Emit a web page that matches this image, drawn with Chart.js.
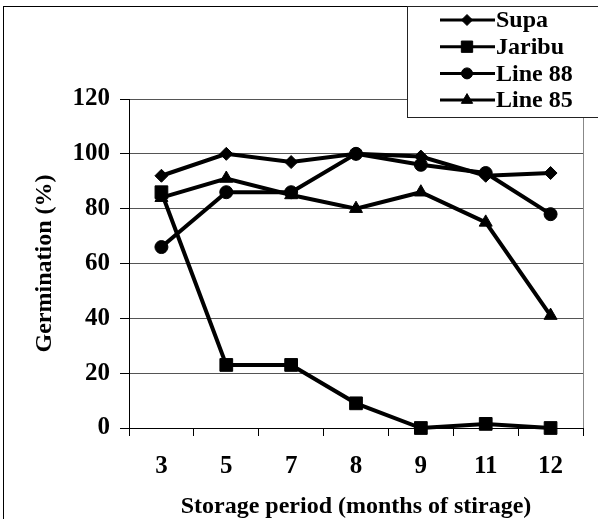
<!DOCTYPE html>
<html>
<head>
<meta charset="utf-8">
<script src="https://cdn.jsdelivr.net/npm/chart.js@4.4.1/dist/chart.umd.min.js"></script>
<style>
  html, body { margin: 0; padding: 0; background: #fff; }
  #wrap { width: 598px; height: 519px; }
</style>
</head>
<body>
<div id="wrap"><canvas id="lineChart" width="598" height="519"></canvas></div>
<script>
// DATA
const months = ["3", "5", "7", "8", "9", "11", "12"];
const supa = [92, 100, 97, 100, 99, 92, 93];
const jaribu = [86, 23, 23, 9, 0, 1.5, 0];
const line88 = [66, 86, 86, 100, 96, 93, 78];
const line85 = [84, 91, 85, 80, 86, 75, 41];
const seriesNames = ["Supa", "Jaribu", "Line 88", "Line 85"];

const serif = "'Liberation Serif', 'Times New Roman', serif";

function series(label, data, style, radius) {
    return {
        label: label,
        data: data,
        borderColor: "#000",
        backgroundColor: "#000",
        borderWidth: 4,
        pointStyle: style,
        pointRadius: radius,
        pointHoverRadius: radius,
        pointBorderWidth: 1,
        tension: 0,
        clip: false
    };
}

// frame, right border of plot and the legend box
const decor = {
    id: "decor",
    afterDraw(chart) {
        const ctx = chart.ctx;
        const a = chart.chartArea;
        ctx.save();
        ctx.lineWidth = 1;
        ctx.strokeStyle = "#000";
        ctx.strokeRect(3.5, 6.5, 700, 700);
        ctx.strokeStyle = "#888";
        ctx.beginPath();
        ctx.moveTo(Math.round(a.right) + 0.5, a.top);
        ctx.lineTo(Math.round(a.right) + 0.5, a.bottom);
        ctx.stroke();

        // legend
        ctx.fillStyle = "#fff";
        ctx.fillRect(407, 6, 200, 111);
        ctx.strokeStyle = "#222";
        ctx.strokeRect(407.5, 6.5, 300, 111);
        ctx.font = "bold 24px " + serif;
        ctx.textBaseline = "middle";
        ctx.textAlign = "left";
        chart.data.datasets.forEach((ds, i) => {
            const y = 20 + i * 26.7;
            ctx.strokeStyle = "#000";
            ctx.lineWidth = 3;
            ctx.beginPath();
            ctx.moveTo(440, y);
            ctx.lineTo(495, y);
            ctx.stroke();
            ctx.fillStyle = "#000";
            if (Chart.helpers && Chart.helpers.drawPoint) {
                ctx.lineWidth = 1;
                Chart.helpers.drawPoint(ctx, { pointStyle: ds.pointStyle, radius: ds.pointRadius - 1, borderWidth: 1, rotation: 0 }, 467, y);
            }
            ctx.fillStyle = "#000";
            ctx.fillText(seriesNames[i], 496, y + 1);
        });
        ctx.restore();
    }
};

const el = document.getElementById("lineChart");

new Chart(el, {
    type: "line",
    data: {
        labels: months,
        datasets: [
            series(seriesNames[0], supa, "rectRot", 6.5),
            series(seriesNames[1], jaribu, "rect", 9),
            series(seriesNames[2], line88, "circle", 6.5),
            series(seriesNames[3], line85, "triangle", 7.5)
        ]
    },
    options: {
        responsive: false,
        animation: false,
        events: [],
        layout: { padding: { top: 99, right: 15, bottom: 0, left: 0 } },
        plugins: {
            legend: { display: false },
            tooltip: { enabled: false }
        },
        scales: {
            x: {
                offset: true,
                grid: { offset: true, drawOnChartArea: false, drawTicks: true, tickLength: 8, tickColor: "#000" },
                border: { color: "#000", width: 1 },
                ticks: { color: "#000", padding: 16, font: { family: serif, size: 25, weight: "bold" }, maxRotation: 0 },
                title: {
                    display: true,
                    text: "Storage period (months of stirage)",
                    color: "#000",
                    font: { family: serif, size: 24, weight: "bold", lineHeight: 1 },
                    padding: { top: 0, bottom: 0 }
                },
                afterFit(scale) { scale.height = 91; }
            },
            y: {
                min: 0,
                max: 120,
                ticks: { stepSize: 20, color: "#000", padding: 10, font: { family: serif, size: 25, weight: "bold" } },
                grid: { color: "#555", tickColor: "#000", tickLength: 9 },
                border: { color: "#000", width: 1 },
                title: {
                    display: true,
                    text: "Germination (%)",
                    color: "#000",
                    font: { family: serif, size: 24, weight: "bold", lineHeight: 1 },
                    padding: { top: 33, bottom: 0 }
                },
                afterFit(scale) { scale.width = 129; }
            }
        }
    },
    plugins: [decor]
});
</script>
</body>
</html>
